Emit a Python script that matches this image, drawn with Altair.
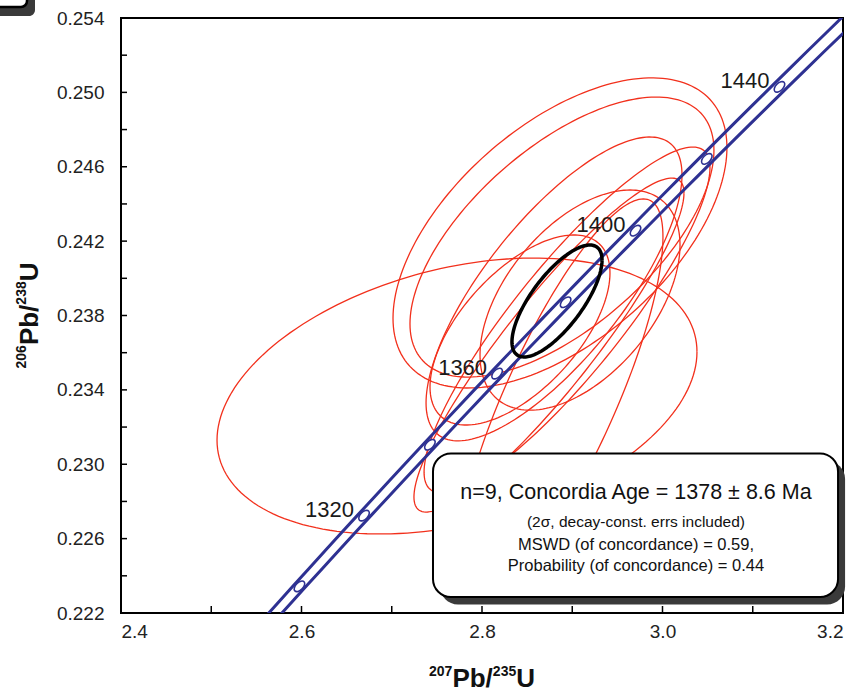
import altair as alt
import numpy as np
import pandas as pd

# ---------------- data ----------------
LAMBDA_238 = 1.55125e-10
LAMBDA_235 = 9.8485e-10
BAND_REL = 0.0016  # relative decay-constant envelope (2 sigma)

curve_ages = list(range(1270, 1485, 5))          # Ma
marker_ages = [1300, 1320, 1340, 1360, 1380, 1400, 1420, 1440]
label_ages = [1320, 1360, 1400, 1440]

# measured analyses (2-sigma error ellipses): centre, half-extent, correlation
ell_x = [2.7723, 2.8864, 2.8886, 2.8798, 2.8421, 2.8742, 2.8942, 2.9086, 2.8864]
ell_y = [0.23367, 0.24244, 0.24222, 0.23943, 0.23722, 0.23641, 0.23776, 0.23883, 0.23346]
ell_sx = [0.2659, 0.1850, 0.1684, 0.1418, 0.0997, 0.1496, 0.1584, 0.1108, 0.1141]
ell_sy = [0.00742, 0.00834, 0.00753, 0.00817, 0.00511, 0.00898, 0.00930, 0.00592, 0.01081]
ell_rho = [0.32, 0.55, 0.62, 0.75, 0.60, 0.91, 0.88, 0.50, 0.81]

# concordia age ellipse
conc_x, conc_y, conc_sx, conc_sy, conc_rho = 2.8831, 0.23878, 0.0499, 0.00301, 0.73

x_ticks = [2.4, 2.6, 2.8, 3.0, 3.2]
x_minor = [2.5, 2.6, 2.7, 2.8, 2.9, 3.0, 3.1]
y_ticks = [0.222, 0.226, 0.230, 0.234, 0.238, 0.242, 0.246, 0.250, 0.254]
y_minor = [0.224, 0.226, 0.228, 0.230, 0.232, 0.234, 0.236, 0.238, 0.240,
           0.242, 0.244, 0.246, 0.248, 0.250, 0.252]

stats_lines = ["n=9, Concordia Age = 1378 \u00b1 8.6 Ma",
               "(2\u03c3, decay-const. errs included)",
               "MSWD (of concordance) = 0.59,",
               "Probability (of concordance) = 0.44"]
stats_y = [0.22845, 0.22689, 0.22566, 0.22453]
stats_size = [21.5, 15.5, 16.5, 16.5]
stats_x = 2.9706
box_x = [2.7457, 3.1945]
box_y = [0.22286, 0.23058]

# axis titles: pieces of "207Pb/235U" and "206Pb/238U" (superscript flag)
x_title_parts = ["207", "Pb/", "235", "U"]
y_title_parts = ["206", "Pb/", "238", "U"]
title_sup = [True, False, True, False]

# ---------------- derived tables ----------------
W, H = 722, 595
RED = "#f2301c"
BLUE = "#2e3192"
FONT = "Liberation Sans"
SUP_FS, MAIN_FS = 14, 26

def concordia(ages, rel):
    t = np.array(ages, dtype=float) * 1e6
    return np.exp(LAMBDA_235 * (1 + rel) * t) - 1, np.exp(LAMBDA_238 * t) - 1

band_rows = []
for k, rel in enumerate([-BAND_REL, BAND_REL]):
    xs, ys = concordia(curve_ages, rel)
    for i, (a, b) in enumerate(zip(xs, ys)):
        band_rows.append({"line": k, "i": i, "x": a, "y": b})
band_df = pd.DataFrame(band_rows)

mx, my = concordia(marker_ages, 0.0)
marker_df = pd.DataFrame({"age": marker_ages, "x": mx, "y": my})
lx, ly = concordia(label_ages, 0.0)
label_df = pd.DataFrame({"age": [str(a) for a in label_ages], "x": lx, "y": ly})

theta = np.linspace(0, 2 * np.pi, 181)

def ellipse_points(cx, cy, sx, sy, rho):
    xs = cx + sx * np.cos(theta)
    ys = cy + sy * (rho * np.cos(theta) + np.sqrt(1 - rho ** 2) * np.sin(theta))
    return xs, ys

ell_rows = []
for e in range(len(ell_x)):
    xs, ys = ellipse_points(ell_x[e], ell_y[e], ell_sx[e], ell_sy[e], ell_rho[e])
    for i, (a, b) in enumerate(zip(xs, ys)):
        ell_rows.append({"id": e, "i": i, "x": a, "y": b})
ell_df = pd.DataFrame(ell_rows)

cxs, cys = ellipse_points(conc_x, conc_y, conc_sx, conc_sy, conc_rho)
conc_df = pd.DataFrame({"i": range(len(cxs)), "x": cxs, "y": cys})

stats_df = pd.DataFrame({"text": stats_lines, "y": stats_y, "fs": stats_size,
                         "x": [stats_x] * len(stats_lines)})
box_df = pd.DataFrame({"x": [box_x[0]], "x1": [box_x[1]],
                       "y": [box_y[0]], "y1": [box_y[1]]})
shadow_df = pd.DataFrame({"x": [box_x[0] + 0.0078], "x1": [box_x[1] + 0.0078],
                          "y": [box_y[0] - 0.0004], "y1": [box_y[1] - 0.0004]})

xs_ = alt.Scale(domain=[2.4, 3.2], nice=False, zero=False)
ys_ = alt.Scale(domain=[0.222, 0.254], nice=False, zero=False)

x_axis = alt.Axis(values=x_ticks, format=".1f", tickSize=0, domain=False, grid=False,
                  labelFontSize=19, labelFont=FONT, labelColor="#222", labelPadding=9,
                  title="")
y_axis = alt.Axis(values=y_ticks, format=".3f", tickSize=0, domain=False, grid=False,
                  labelFontSize=19, labelFont=FONT, labelColor="#222", labelPadding=17,
                  title="")

def X(field):
    return alt.X(field, scale=xs_, axis=x_axis)

def Y(field):
    return alt.Y(field, scale=ys_, axis=y_axis)

ellipses = alt.Chart(ell_df).mark_line(color=RED, strokeWidth=1.3, clip=True).encode(
    x=X("x:Q"), y=Y("y:Q"), detail="id:N", order="i:Q")

band = alt.Chart(band_df).mark_line(color=BLUE, strokeWidth=3, clip=True).encode(
    x=X("x:Q"), y=Y("y:Q"), detail="line:N", order="i:Q")

marker_shape = "M -0.75 0.75 A 1.06 0.6 -45 1 1 0.75 -0.75 A 1.06 0.6 -45 1 1 -0.75 0.75 Z"
markers = alt.Chart(marker_df).mark_point(shape=marker_shape, filled=True, fill="white",
                                          stroke=BLUE, strokeWidth=1.6, size=150,
                                          opacity=1).encode(x=X("x:Q"), y=Y("y:Q"))

labels = alt.Chart(label_df).mark_text(align="right", baseline="alphabetic", dx=-10, dy=1,
                                       font=FONT, fontSize=22, color="#1a1a1a").encode(
    x=X("x:Q"), y=Y("y:Q"), text="age:N")

conc = alt.Chart(conc_df).mark_line(color="black", strokeWidth=3.5).encode(
    x=X("x:Q"), y=Y("y:Q"), order="i:Q")

shadow = alt.Chart(shadow_df).mark_rect(fill="#3a3a3a", cornerRadius=18).encode(
    x=X("x:Q"), x2="x1:Q", y=Y("y:Q"), y2="y1:Q")
box = alt.Chart(box_df).mark_rect(fill="white", stroke="black", strokeWidth=2,
                                  cornerRadius=18).encode(
    x=X("x:Q"), x2="x1:Q", y=Y("y:Q"), y2="y1:Q")

stats = alt.Chart(stats_df).mark_text(align="center", baseline="middle", font=FONT,
                                      color="#111").encode(
    x=X("x:Q"), y=Y("y:Q"), text="text:N",
    size=alt.Size("fs:Q", scale=None, legend=None))

xt = alt.Chart(pd.DataFrame({"x": x_minor})).mark_rule(color="black", strokeWidth=1.5).encode(
    x=X("x:Q"), y=alt.value(H), y2=alt.value(H - 7))
yt = alt.Chart(pd.DataFrame({"y": y_minor})).mark_rule(color="black", strokeWidth=1.5).encode(
    y=Y("y:Q"), x=alt.value(0), x2=alt.value(6))

# ---- axis titles with real superscripts (pieces laid out left-to-right) ----
def char_w(s, fs):
    widths = {"P": 0.667, "b": 0.611, "/": 0.278, "U": 0.722}
    return sum(widths.get(c, 0.556) for c in s) * fs

title_layers = []
def title_pieces(parts, vertical):
    sizes = [SUP_FS if s else MAIN_FS for s in title_sup]
    ws = [char_w(p, f) for p, f in zip(parts, sizes)]
    total = sum(ws)
    pos = -total / 2
    out = []
    for p, f, w, s in zip(parts, sizes, ws, title_sup):
        out.append((p, f, pos, s))
        pos += w
    return out

for p, f, off, sup in title_pieces(x_title_parts, False):
    title_layers.append(alt.Chart(pd.DataFrame({"t": [p]})).mark_text(
        align="left", baseline="alphabetic", font=FONT, fontWeight="bold",
        fontSize=f, color="#111").encode(
        text="t:N", x=alt.value(W / 2 + off), y=alt.value(H + (63 if sup else 74))))

for p, f, off, sup in title_pieces(y_title_parts, True):
    title_layers.append(alt.Chart(pd.DataFrame({"t": [p]})).mark_text(
        align="left", baseline="alphabetic", font=FONT, fontWeight="bold",
        fontSize=f, color="#111", angle=270).encode(
        text="t:N", x=alt.value(-95 if sup else -83), y=alt.value(H / 2 - off)))

# partial panel-letter box cut off at the top-left corner of the figure
corner_shadow = alt.Chart(pd.DataFrame({"k": [0]})).mark_rect(
    fill="#3a3a3a", cornerRadius=6).encode(
    x=alt.value(-140), x2=alt.value(-86), y=alt.value(-40), y2=alt.value(-2))
corner_box = alt.Chart(pd.DataFrame({"k": [0]})).mark_rect(
    fill="white", stroke="black", strokeWidth=2.5, cornerRadius=6).encode(
    x=alt.value(-145), x2=alt.value(-94), y=alt.value(-45), y2=alt.value(-11))

chart = alt.layer(ellipses, band, markers, labels, conc, shadow, box, stats, xt, yt,
                  corner_shadow, corner_box, *title_layers).properties(
    width=W, height=H,
    autosize=alt.AutoSizeParams(type="none"),
    padding={"left": 121, "top": 18, "right": 18, "bottom": 83},
    background="white",
).configure_view(stroke="black", strokeWidth=2)

chart.save("out.html", embed_options={"renderer": "svg", "actions": False})
